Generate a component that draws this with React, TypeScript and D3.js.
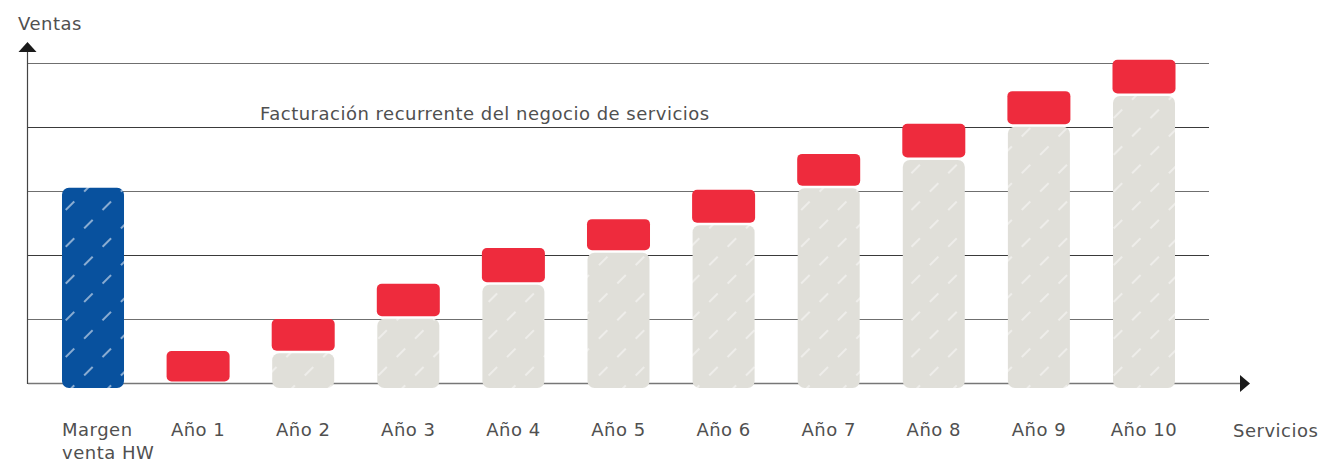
import React, { useEffect, useRef } from "react";
import * as d3 from "d3";

// categories along the x axis
const categories = [
  "Margen venta HW",
  "Año 1",
  "Año 2",
  "Año 3",
  "Año 4",
  "Año 5",
  "Año 6",
  "Año 7",
  "Año 8",
  "Año 9",
  "Año 10",
];

// hardware margin (first column only), in grid units
const hwMargin = [3.05];
// recurring service billing carried over from previous years (grey)
const recurring = [0, 0.48, 1.02, 1.55, 2.05, 2.48, 3.06, 3.5, 4.02, 4.5];
// new service sales of the year (red)
const newSales = [0.5, 0.52, 0.53, 0.56, 0.51, 0.54, 0.52, 0.55, 0.54, 0.55];

const gridValues = [0, 1, 2, 3, 4, 5];

const W = 1319;
const H = 461;
const FONT = "'DejaVu Sans', 'Noto Sans', sans-serif";
const TEXT = "#505050";
const BLUE = "#08519e";
const RED = "#ee2b3d";
const GREY = "#e0dfd9";

function App() {
  const ref = useRef<SVGSVGElement>(null);

  useEffect(() => {
    const svg = d3.select(ref.current);
    svg.selectAll("*").remove();

    const axisX = 28;
    const gridRight = 1209;
    const arrowRight = 1250;

    const x = d3.scaleBand().domain(categories).range([62, 1175]).paddingInner(0.41).paddingOuter(0);
    const y = d3.scaleLinear().domain([0, 5]).range([383, 63]);

    // sketchy white hatching
    const defs = svg.append("defs");
    const mkPattern = (id: string, fill: string, op: number) => {
      const p = defs.append("pattern")
        .attr("id", id)
        .attr("patternUnits", "userSpaceOnUse")
        .attr("width", 26)
        .attr("height", 26)
        .attr("patternTransform", "rotate(-45)");
      p.append("rect").attr("width", 26).attr("height", 26).attr("fill", fill);
      p.append("line")
        .attr("x1", 2).attr("x2", 14).attr("y1", 13).attr("y2", 13)
        .attr("stroke", "#fff").attr("stroke-width", 1.5).attr("opacity", op);
    };
    mkPattern("hatch-blue", BLUE, 0.7);
    mkPattern("hatch-grey", GREY, 0.6);

    // gridlines
    svg.append("g")
      .selectAll("line")
      .data(gridValues.filter(v => v > 0))
      .join("line")
      .attr("x1", axisX)
      .attr("x2", gridRight)
      .attr("y1", d => Math.round(y(d)) + 0.5)
      .attr("y2", d => Math.round(y(d)) + 0.5)
      .attr("stroke", (d, i) => (i % 2 === 0 ? "#6f6f6f" : "#3a3a3a"))
      .attr("stroke-width", 1.1);

    // baseline + arrow
    svg.append("line")
      .attr("x1", axisX).attr("x2", arrowRight - 8)
      .attr("y1", y(0) + 0.5).attr("y2", y(0) + 0.5)
      .attr("stroke", "#777").attr("stroke-width", 1.3);
    svg.append("path")
      .attr("d", `M${arrowRight - 10},${y(0) - 8} L${arrowRight},${y(0) + 0.5} L${arrowRight - 10},${y(0) + 9} Z`)
      .attr("fill", "#1a1a1a");

    // vertical axis + arrow
    svg.append("line")
      .attr("x1", axisX - 0.5).attr("x2", axisX - 0.5)
      .attr("y1", y(0) + 1).attr("y2", 50)
      .attr("stroke", "#444").attr("stroke-width", 1.2);
    svg.append("path")
      .attr("d", `M${axisX - 9.5},52 L${axisX - 0.5},42 L${axisX + 8.5},52 Z`)
      .attr("fill", "#1a1a1a");

    const bw = x.bandwidth();

    // hardware margin bar
    svg.append("rect")
      .attr("x", x(categories[0])!)
      .attr("y", y(hwMargin[0]))
      .attr("width", bw)
      .attr("height", y(0) - y(hwMargin[0]) + 5)
      .attr("rx", 7)
      .attr("fill", "url(#hatch-blue)");

    const years = categories.slice(1);

    // grey recurring bars
    svg.append("g")
      .selectAll("rect")
      .data(years.map((c, i) => ({ c, v: recurring[i] })).filter(d => d.v > 0))
      .join("rect")
      .attr("x", d => x(d.c)!)
      .attr("y", d => y(d.v) + 1)
      .attr("width", bw)
      .attr("height", d => y(0) - y(d.v) + 4)
      .attr("rx", 7)
      .attr("fill", "url(#hatch-grey)");

    // red new-sales caps
    svg.append("g")
      .selectAll("rect")
      .data(years.map((c, i) => ({ c, lo: recurring[i], hi: recurring[i] + newSales[i] })))
      .join("rect")
      .attr("x", d => x(d.c)! - 0.5)
      .attr("y", d => y(d.hi))
      .attr("width", bw + 1)
      .attr("height", d => y(d.lo) - y(d.hi) - 1.5)
      .attr("rx", 5)
      .attr("fill", RED);

    // category labels
    const labels = svg.append("g")
      .attr("font-family", FONT)
      .attr("font-size", 18)
      .attr("letter-spacing", 0.5)
      .attr("fill", TEXT);

    labels.selectAll("text.year")
      .data(years)
      .join("text")
      .attr("class", "year")
      .attr("x", d => x(d)! + bw / 2)
      .attr("y", 436)
      .attr("text-anchor", "middle")
      .text(d => d);

    const hw = labels.append("text")
      .attr("x", x(categories[0])!)
      .attr("y", 436);
    hw.append("tspan").attr("x", x(categories[0])!).text("Margen");
    hw.append("tspan").attr("x", x(categories[0])!).attr("dy", 23).text("venta HW");

    labels.append("text")
      .attr("x", 1233)
      .attr("y", 437)
      .text("Servicios");

    labels.append("text")
      .attr("x", 18)
      .attr("y", 30)
      .text("Ventas");

    labels.append("text")
      .attr("x", 260)
      .attr("y", 120)
      .text("Facturación recurrente del negocio de servicios");
  }, []);

  return (
    <svg
      ref={ref}
      width={W}
      height={H}
      style={{ position: "absolute", left: 0, top: 0, background: "#fff" }}
    />
  );
}

export default App;
